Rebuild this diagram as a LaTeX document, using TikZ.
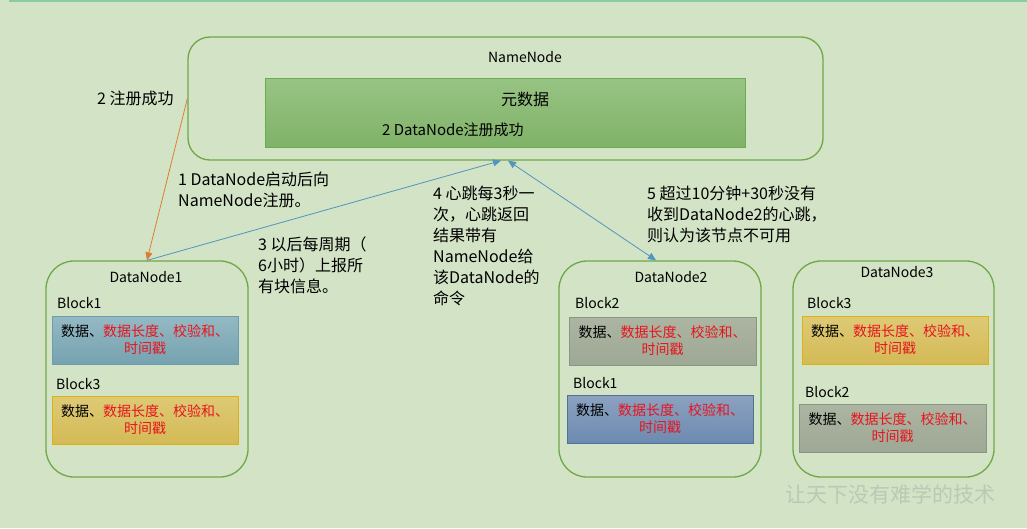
\documentclass[tikz,border=0pt]{standalone}
\usepackage{fontspec}
\setmainfont{Noto Sans CJK SC}
\usetikzlibrary{arrows.meta,calc}
\definecolor{bg}{RGB}{211,227,197}
\definecolor{topline}{RGB}{140,204,165}
\definecolor{boxgreen}{RGB}{112,168,72}
\definecolor{metatop}{RGB}{152,196,132}
\definecolor{metabot}{RGB}{128,178,104}
\definecolor{metaborder}{RGB}{110,170,80}
\definecolor{tealtop}{RGB}{148,185,195}
\definecolor{tealbot}{RGB}{118,162,176}
\definecolor{tealborder}{RGB}{110,155,175}
\definecolor{goldtop}{RGB}{222,202,118}
\definecolor{goldbot}{RGB}{212,186,86}
\definecolor{goldborder}{RGB}{222,176,20}
\definecolor{graytop}{RGB}{172,181,162}
\definecolor{graybot}{RGB}{158,168,148}
\definecolor{grayborder}{RGB}{138,150,132}
\definecolor{bluetop}{RGB}{140,162,192}
\definecolor{bluebot}{RGB}{108,138,176}
\definecolor{blueborder}{RGB}{80,112,150}
\definecolor{arrorange}{RGB}{222,125,50}
\definecolor{arrblue}{RGB}{80,150,190}
\definecolor{txtred}{RGB}{232,20,30}
\definecolor{wm}{RGB}{188,200,182}
\tikzset{
  server/.style={draw=boxgreen, line width=1.3pt, rounded corners=28pt, inner sep=0pt},
  blockbox/.style={line width=1pt, inner sep=0pt, minimum width=186pt, minimum height=48pt, align=center, font=\fontsize{14}{17}\selectfont},
  teal/.style={blockbox, draw=tealborder, top color=tealtop, bottom color=tealbot},
  gold/.style={blockbox, draw=goldborder, top color=goldtop, bottom color=goldbot},
  grayb/.style={blockbox, draw=grayborder, top color=graytop, bottom color=graybot},
  blueb/.style={blockbox, draw=blueborder, top color=bluetop, bottom color=bluebot},
  title/.style={font=\fontsize{14}{16}\selectfont, inner sep=0pt},
  blabel/.style={font=\fontsize{14}{16}\selectfont, inner sep=0pt, anchor=west},
  note/.style={font=\fontsize{16}{21}\selectfont, inner sep=0pt, anchor=west, align=left},
  conn/.style={line width=0.8pt, -{Triangle[length=8pt,width=7pt]}},
}
\newcommand{\blocktext}{数据、\textcolor{txtred}{数据长度、校验和、}\\\textcolor{txtred}{时间戳}}
\begin{document}
\begin{tikzpicture}[x=1pt,y=-1pt]
\fill[bg] (0,0) rectangle (1027,528);
\useasboundingbox (0,0) rectangle (1027,528);
\draw[topline, line width=2pt] (9,0.5) -- (1027,0.5);

% NameNode
\node[server, rounded corners=22pt, minimum width=635pt, minimum height=123pt] (nn) at (505.5,98.5) {};
\node[title] (nntitle) at (525,57) {NameNode};
\node[draw=metaborder, line width=1pt, top color=metatop, bottom color=metabot, minimum width=480pt, minimum height=69pt, inner sep=0pt] (meta) at (505,112.5) {};
\node[font=\fontsize{16}{18}\selectfont, inner sep=0pt] (metat) at (525,99) {元数据};
\node[font=\fontsize{15}{18}\selectfont, inner sep=0pt, anchor=west] (reg) at (382,130) {2 DataNode注册成功};

% DataNodes
\node[server, minimum width=202pt, minimum height=216pt] (dn1) at (147,369) {};
\node[server, minimum width=202pt, minimum height=216pt] (dn2) at (660,369) {};
\node[server, minimum width=201pt, minimum height=216pt] (dn3) at (893.5,369) {};
\node[title] (dn1t) at (146,277) {DataNode1};
\node[title] (dn2t) at (671,277) {DataNode2};
\node[title] (dn3t) at (897,272) {DataNode3};

% DN1 blocks
\node[blabel] (l11) at (57,303) {Block1};
\node[teal] (b11) at (145,340) {\blocktext};
\node[blabel] (l13) at (56,384) {Block3};
\node[gold] (b13) at (145,420) {\blocktext};
% DN2 blocks
\node[blabel] (l22) at (575,303) {Block2};
\node[grayb, minimum width=187pt] (b22) at (662.5,341) {\blocktext};
\node[blabel] (l21) at (573,383) {Block1};
\node[blueb] (b21) at (660,419) {\blocktext};
% DN3 blocks
\node[blabel] (l33) at (807,303) {Block3};
\node[gold] (b33) at (895,340) {\blocktext};
\node[blabel] (l32) at (805,392) {Block2};
\node[grayb, minimum width=187pt] (b32) at (892.5,428) {\blocktext};

% notes
\node[note] (n2) at (97,98) {2 注册成功};
\node[note] (n1) at (178,190) {1 DataNode启动后向\\NameNode注册。};
\node[note] (n3) at (258,265.5) {3 以后每周期（\\6小时）上报所\\有块信息。};
\node[note] (n4) at (433,245.5) {4 心跳每3秒一\\次，心跳返回\\结果带有\\NameNode给\\该DataNode的\\命令};
\node[note] (n5) at (647,214) {5 超过10分钟+30秒没有\\收到DataNode2的心跳，\\则认为该节点不可用};

% connectors
\coordinate (nnb1) at ($(nn.south)+(-4.5,0)$);
\coordinate (nnb2) at ($(nn.south)+(2.5,0)$);
\coordinate (dn2top) at ($(dn2.north)+(-4,0)$);
\draw[conn, arrorange] (nn.west) -- (dn1.north);
\draw[conn, arrblue] (dn1.north) -- (nnb1);
\draw[conn, arrblue, {Triangle[length=8pt,width=7pt]}-{Triangle[length=8pt,width=7pt]}] (nnb2) -- (dn2top);

% watermark
\node[font=\fontsize{21}{23}\selectfont, text=wm, inner sep=0pt] (wmk) at (890,494) {让天下没有难学的技术};
\end{tikzpicture}
\end{document}
